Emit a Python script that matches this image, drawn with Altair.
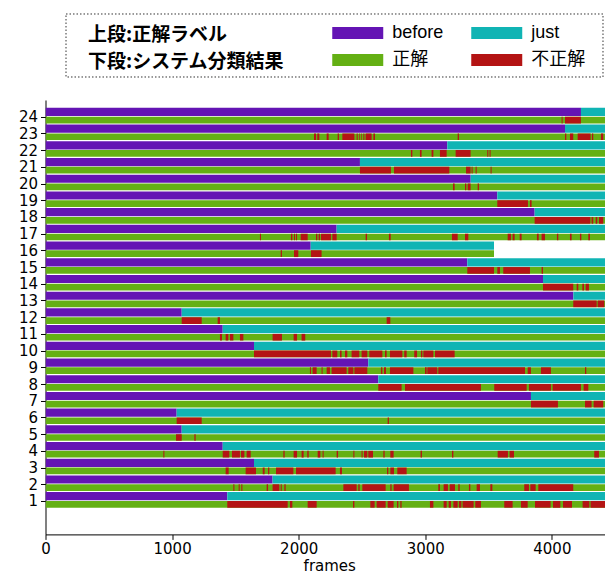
import altair as alt
import pandas as pd

# ---------------- data (frames) ----------------
ROWS = [1, 2, 3, 4, 5, 6, 7, 8, 9, 10, 11, 12, 13, 14, 15, 16, 17, 18, 19, 20, 21, 22, 23, 24]
# legend order (laid out column by column): before / 正解 , just / 不正解
CATEGORIES = ["before", "正解", "just", "不正解"]
COLORS = ["#6414B4", "#64B014", "#10B4B4", "#B41414"]
X_TICKS = [0, 1000, 2000, 3000, 4000]
LEGEND_HEAD = ["上段:正解ラベル", "下段:システム分類結果"]

# frame where the label changes from "before" to "just" (rows 1..24)
BEFORE_END = [1436, 1794, 1647, 1400, 1076, 1036, 3835, 2629, 2550, 1647, 1400, 1076,
              4170, 3930, 3332, 2095, 2300, 3864, 3569, 3359, 2484, 3174, 4104, 4230]
# last frame of each sequence (most run past the right edge of the view)
SEQ_END = [4700, 4700, 4700, 4700, 4700, 4700, 4700, 4700, 4700, 4700, 4700, 4700,
           4700, 4700, 4700, 3543, 4700, 4700, 4700, 4700, 4700, 4700, 4700, 4700]

# misclassified (不正解) frame ranges of the system output, per row
red_01 = [(1436, 1913), (1931, 1950), (2071, 2142), (2429, 2440), (2566, 2600), (2616, 2687),
          (2703, 2750), (2777, 2787), (2803, 2813), (3037, 3064), (3145, 3169), (3185, 3203),
          (3222, 3256), (3266, 3285), (3295, 3382), (3395, 3440), (3624, 3690), (3756, 3809),
          (3867, 3990), (4009, 4067), (4088, 4159), (4243, 4296), (4306, 4700)]
red_02 = [(1484, 1492), (1526, 1534), (1547, 1555), (1747, 1758), (1794, 1847), (1858, 1866),
          (1887, 1897), (2353, 2458), (2471, 2482), (2503, 2687), (2724, 2734), (2750, 2871),
          (3103, 3116), (3145, 3179), (3193, 3235), (3261, 3272), (3345, 3356), (3406, 3432),
          (3514, 3530), (3782, 3819), (3830, 3872), (3893, 4169)]
red_03 = [(1423, 1447), (1581, 1663), (1716, 1731), (1758, 1768), (1821, 1958), (1979, 2292),
          (2326, 2342), (2698, 2708), (2724, 2753), (2779, 2853)]
red_04 = [(931, 939), (1400, 1452), (1473, 1536), (1544, 1571), (1589, 1621), (1879, 1889),
          (1960, 1987), (2023, 2039), (2068, 2079), (2150, 2171), (2189, 2197), (2300, 2311),
          (2432, 2440), (2497, 2505), (2516, 2542), (2550, 2587), (2669, 2679), (2724, 2750),
          (2963, 2974), (3211, 3222), (3572, 3653), (3666, 3701), (4335, 4372)]
red_05 = [(1031, 1076), (1176, 1186)]
red_06 = [(1036, 1234), (2703, 2713)]
red_07 = [(3835, 4048), (4262, 4314), (4330, 4406)]
red_08 = [(2629, 2813), (2840, 3440), (3545, 3801), (3819, 3993), (4006, 4230), (4251, 4288)]
red_09 = [(2089, 2097), (2110, 2142), (2181, 2189), (2221, 2247), (2260, 2379), (2392, 2432),
          (2440, 2542), (2650, 2661), (2674, 2690), (2721, 2906), (2998, 3011), (3016, 3095),
          (3103, 3788), (3809, 3835), (3914, 3993), (4262, 4272), (4428, 4438)]
red_10 = [(1647, 2255), (2266, 2305), (2326, 2339), (2366, 2384), (2418, 2479), (2497, 2542),
          (2558, 2661), (2682, 2695), (2721, 2819), (2834, 2853), (2913, 2935), (2966, 2977),
          (2985, 3064), (3077, 3232)]
red_11 = [(1378, 1394), (1423, 1444), (1457, 1484), (1536, 1563), (1794, 1868), (1960, 1987),
          (2023, 2052)]
red_12 = [(1076, 1234), (1360, 1378), (2695, 2724)]
red_13 = [(4169, 4354), (4362, 4414), (4462, 4700)]
red_14 = [(3930, 4169), (4196, 4209), (4241, 4254), (4267, 4293)]
red_15 = [(3332, 3543), (3569, 3590), (3616, 3827), (3919, 3930)]
red_16 = [(1858, 1868), (1963, 1997), (2097, 2181)]
red_17 = [(1694, 1702), (1939, 1950), (1963, 1971), (1979, 1987), (2016, 2071), (2137, 2147),
          (2158, 2168), (2176, 2255), (2266, 2300), (2529, 2540), (2713, 2727), (3211, 3256),
          (3314, 3340), (3651, 3677), (3690, 3706), (3746, 3761), (3882, 3896), (3919, 3946),
          (4040, 4051), (4143, 4156), (4222, 4233), (4288, 4301)]
red_18 = [(3864, 4304), (4314, 4327), (4346, 4359), (4372, 4406)]
red_19 = [(3569, 3811), (3827, 3840)]
red_20 = [(3219, 3232), (3314, 3324), (3335, 3358), (3414, 3424)]
red_21 = [(2484, 2729), (2753, 3190), (3322, 3358), (3366, 3374), (3398, 3406), (3516, 3524)]
red_22 = [(2887, 2898), (2958, 2971), (3050, 3064), (3116, 3169), (3240, 3358), (3490, 3498),
          (3508, 3516)]
red_23 = [(2121, 2137), (2147, 2163), (2221, 2237), (2308, 2318), (2345, 2440), (2458, 2466),
          (2479, 2484), (2492, 2497), (2511, 2519), (2529, 2576), (2590, 2603), (3256, 3266),
          (4104, 4114), (4143, 4169), (4204, 4306), (4317, 4327), (4388, 4406), (4464, 4478)]
red_24 = [(4077, 4085), (4104, 4230)]

RED = [red_01, red_02, red_03, red_04, red_05, red_06, red_07, red_08, red_09, red_10, red_11, red_12,
       red_13, red_14, red_15, red_16, red_17, red_18, red_19, red_20, red_21, red_22, red_23, red_24]

# ---------------- table ----------------
recs = []
for i, r in enumerate(ROWS):
    recs.append({"row": r, "level": "upper", "start": 0, "end": BEFORE_END[i], "cat": "before"})
    recs.append({"row": r, "level": "upper", "start": BEFORE_END[i], "end": SEQ_END[i], "cat": "just"})
    recs.append({"row": r, "level": "lower", "start": 0, "end": SEQ_END[i], "cat": "正解"})
for i, r in enumerate(ROWS):
    for s, e in RED[i]:
        recs.append({"row": r, "level": "lower", "start": s, "end": min(e, SEQ_END[i]), "cat": "不正解"})
df = pd.DataFrame(recs)

AX_FONT = "DejaVu Sans"

bars = alt.Chart(df).transform_calculate(
    y0="datum.level == 'upper' ? datum.row + 0.04 : datum.row - 0.40",
    y1="datum.level == 'upper' ? datum.row + 0.53 : datum.row",
).mark_rect(clip=True).encode(
    x=alt.X("start:Q",
            scale=alt.Scale(domain=[0, 4483], nice=False, zero=False),
            axis=alt.Axis(values=X_TICKS, format="d", title="frames", grid=False,
                          labelFlush=False,
                          labelFont=AX_FONT, labelFontSize=15, labelColor="black",
                          labelPadding=2, tickSize=5, tickColor="black", domainColor="black",
                          titleFont=AX_FONT, titleFontSize=15, titleFontWeight="normal",
                          titleColor="black", titlePadding=2)),
    x2="end:Q",
    y=alt.Y("y0:Q",
            scale=alt.Scale(domain=[-1, 25], nice=False, zero=False),
            axis=alt.Axis(values=ROWS, title="", grid=False,
                          labelFont=AX_FONT, labelFontSize=15, labelColor="black",
                          labelPadding=3, tickSize=5, tickColor="black", domainColor="black")),
    y2="y1:Q",
    color=alt.Color("cat:N",
                    scale=alt.Scale(domain=CATEGORIES, range=COLORS),
                    legend=alt.Legend(
                        orient="none", legendX=286.5, legendY=-80, columns=2,
                        title=None, padding=0,
                        columnPadding=27, rowPadding=5,
                        symbolType="M-2,-0.47L2,-0.47L2,0.47L-2,0.47Z", symbolSize=650,
                        symbolOffset=12.75,
                        symbolStrokeWidth=0, symbolOpacity=1,
                        labelFont="Liberation Sans, Noto Sans CJK JP", labelFontSize=18,
                        labelColor="black", labelOffset=21.5)),
)

box = alt.Chart(alt.Data(values=[{}])).mark_rect(
    fill="white", stroke="#333333", strokeWidth=1, strokeDash=[1.5, 2]
).encode(x=alt.value(20.5), x2=alt.value(557.5), y=alt.value(-86), y2=alt.value(-23))

head = alt.Chart(alt.Data(values=[{}])).mark_text(
    text=LEGEND_HEAD, align="left", baseline="middle", lineHeight=27,
    font="Noto Sans CJK JP", fontSize=19, fontWeight="bold", color="black"
).encode(x=alt.value(42.5), y=alt.value(-65))

chart = alt.layer(box, head, bars).properties(
    width=567.5, height=434.4,
    autosize=alt.AutoSizeParams(type="none"),
    padding={"left": 37.5, "top": 92, "right": -8, "bottom": 40},
    background="white",
).configure_view(strokeWidth=0)

chart.save("out.html", embed_options={"renderer": "svg", "actions": False})
